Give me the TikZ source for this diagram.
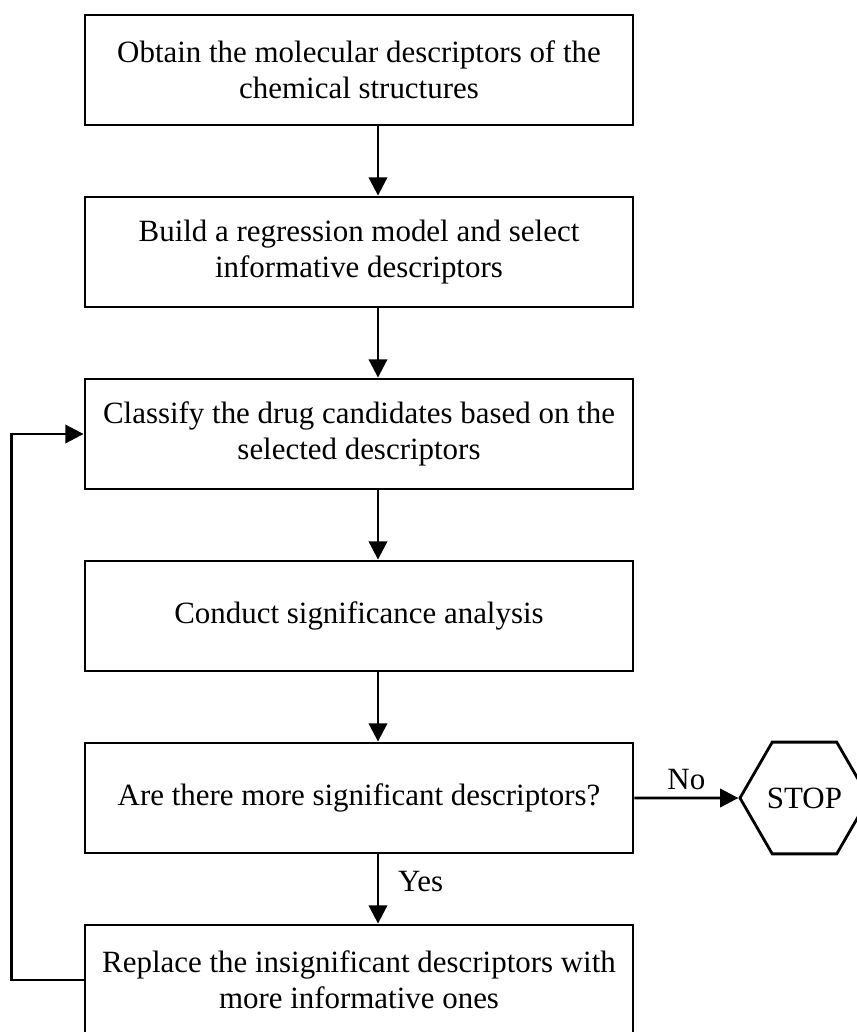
\documentclass[tikz,border=0pt]{standalone}
\usepackage{fontspec}
\setmainfont{Liberation Serif}
\usetikzlibrary{arrows.meta, positioning, shapes.geometric}

\begin{document}
\begin{tikzpicture}[>={Triangle[length=5.2pt, width=5.2pt]},
    process/.style={draw, rectangle, line width=0.8pt, minimum width=5.48cm, minimum height=1.10cm, inner sep=0pt, align=center, font=\fontsize{8.8}{10.2}\selectfont},
    terminal/.style={draw, regular polygon, regular polygon sides=6, line width=0.8pt, minimum size=1.29cm, inner sep=0pt, font=\fontsize{8.8}{10.2}\selectfont},
    flow/.style={->, line width=0.8pt}]
    \useasboundingbox (0,0) rectangle (8.57,10.32);

    \node (obtain) at (3.59,9.62) [process] {Obtain the molecular descriptors of the\\chemical structures};
    \node (build) at (3.59,7.80) [process] {Build a regression model and select\\informative descriptors};
    \node (classify) at (3.59,5.98) [process] {Classify the drug candidates based on the\\selected descriptors};
    \node (conduct) at (3.59,4.16) [process] {Conduct significance analysis};
    \node (check) at (3.59,2.34) [process] {Are there more significant descriptors?};
    \node (replace) at (3.59,0.52) [process] {Replace the insignificant descriptors with\\more informative ones};

    \node (stop) at (8.045,2.34) [terminal] {STOP};

    \draw [flow] ([xshift=0.19cm]obtain.south) -- ([xshift=0.19cm]build.north);
    \draw [flow] ([xshift=0.19cm]build.south) -- ([xshift=0.19cm]classify.north);
    \draw [flow] ([xshift=0.19cm]classify.south) -- ([xshift=0.19cm]conduct.north);
    \draw [flow] ([xshift=0.19cm]conduct.south) -- ([xshift=0.19cm]check.north);
    \draw [flow] ([xshift=0.19cm]check.south) -- ([xshift=0.19cm]replace.north)
        node [midway, right, xshift=2pt, yshift=2pt, font=\fontsize{8.8}{10.2}\selectfont] {Yes};

    \draw [flow] (check.east) -- (stop.west)
        node [midway, above, yshift=-1.5pt, font=\fontsize{8.8}{10.2}\selectfont] {No};

    % loop back to the classification step
    \draw [flow] (replace.west) -- ++(-0.72,0) |- (classify.west);
\end{tikzpicture}
\end{document}
